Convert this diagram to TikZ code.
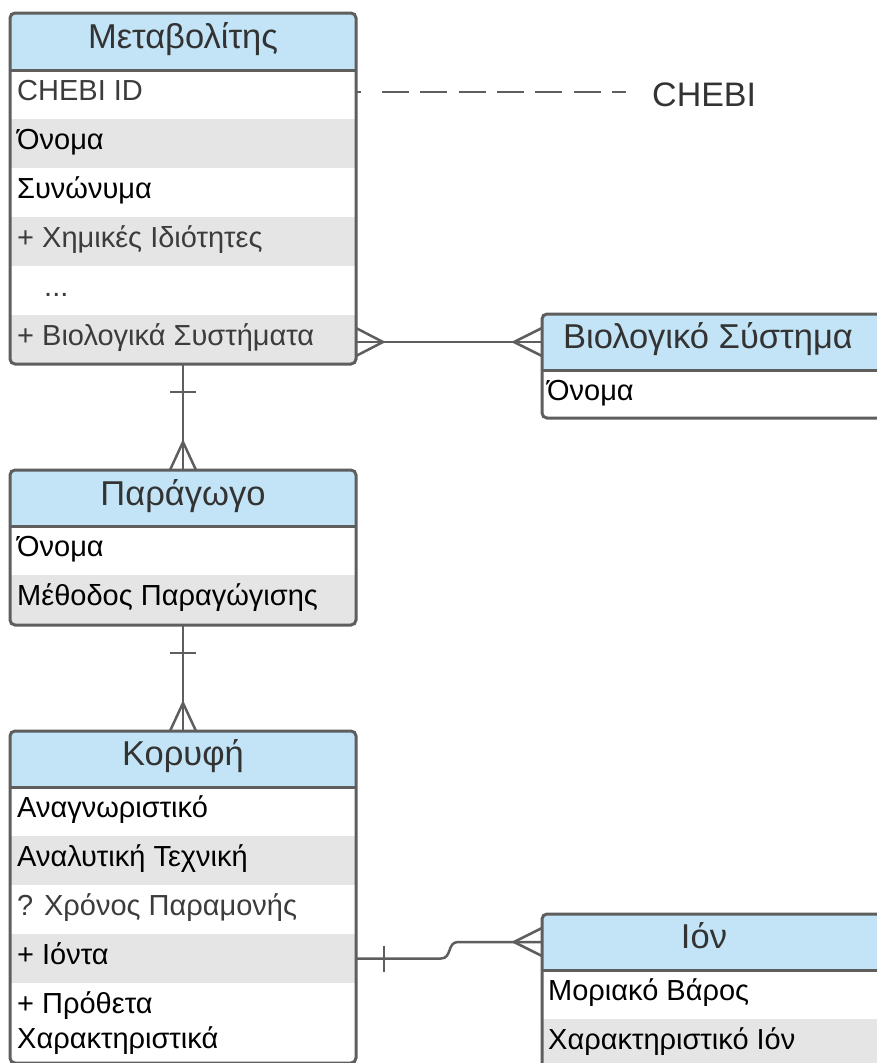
\documentclass[tikz,border=0pt]{standalone}
\usepackage{fontspec}
\setmainfont{Liberation Sans}
\usetikzlibrary{calc}

\definecolor{hdblue}{HTML}{C2E4F6}
\definecolor{rowgray}{HTML}{E5E5E5}
\definecolor{edge}{HTML}{5E5E5E}
\definecolor{hdtext}{HTML}{333333}
\definecolor{softtext}{HTML}{3C3C3C}

\tikzset{
  tbl/.style={draw=edge, line width=3pt, rounded corners=5pt, inner sep=0pt, outer sep=0pt, anchor=north west},
  hdtxt/.style={font=\fontsize{34.5}{40}\selectfont, text=hdtext, inner sep=0pt, anchor=base},
  fld/.style={font=\fontsize{29}{35}\selectfont, text=black, inner sep=0pt, anchor=base west},
  fldsoft/.style={fld, text=softtext},
  conn/.style={draw=edge, line width=2.5pt},
  hdsep/.style={draw=edge, line width=3pt},
  chebiline/.style={conn, dash pattern=on 5pt off 21pt on 27pt off 11.3pt on 27pt off 11.3pt on 27pt off 11.3pt on 27pt off 11.3pt on 27pt off 11.3pt on 27pt off 11.3pt on 14pt off 40pt},
}

\begin{document}
\begin{tikzpicture}[x=1pt, y=-1pt]
\clip (0,0) rectangle (877,1063);
\fill[white] (0,0) rectangle (877,1063);

% ---------- Metabolite table ----------
\begin{scope}
  \clip[rounded corners=5pt] (10,13) rectangle (356,364);
  \fill[hdblue] (10,13) rectangle (356,70);
  \fill[rowgray] (10,119) rectangle (356,168);
  \fill[rowgray] (10,217) rectangle (356,266);
  \fill[rowgray] (10,315) rectangle (356,364);
\end{scope}
\node[tbl, minimum width=346pt, minimum height=351pt] (met) at (10,13) {};
\draw[hdsep] (met.west |- 0,70) -- (met.east |- 0,70);
\node[hdtxt] (metT) at (183,48) {Μεταβολίτης};
\node[fldsoft] (metR1) at (17,100) {CHEBI ID};
\node[fld] (metR2) at (17,149) {Όνομα};
\node[fld] (metR3) at (17,198) {Συνώνυμα};
\node[fldsoft] (metR4) at (17,247) {+ Χημικές Ιδιότητες};
\node[fldsoft] (metR5) at (44,296) {...};
\node[fldsoft] (metR6) at (17,345) {+ Βιολογικά Συστήματα};

% ---------- Biological system table ----------
\begin{scope}
  \clip[rounded corners=5pt] (542,314) rectangle (890,418);
  \fill[hdblue] (542,314) rectangle (890,370);
\end{scope}
\node[tbl, minimum width=348pt, minimum height=104pt] (bio) at (542,314) {};
\draw[hdsep] (bio.west |- 0,370) -- (bio.east |- 0,370);
\node[hdtxt] (bioT) at (708,348) {Βιολογικό Σύστημα};
\node[fld] (bioR1) at (547,400) {Όνομα};

% ---------- Derivative table ----------
\begin{scope}
  \clip[rounded corners=5pt] (10,470) rectangle (356,625);
  \fill[hdblue] (10,470) rectangle (356,526);
  \fill[rowgray] (10,575) rectangle (356,625);
\end{scope}
\node[tbl, minimum width=346pt, minimum height=155pt] (par) at (10,470) {};
\draw[hdsep] (par.west |- 0,526) -- (par.east |- 0,526);
\node[hdtxt] (parT) at (183,505) {Παράγωγο};
\node[fld] (parR1) at (17,556) {Όνομα};
\node[fld] (parR2) at (17,605) {Μέθοδος Παραγώγισης};

% ---------- Peak table ----------
\begin{scope}
  \clip[rounded corners=5pt] (10,731) rectangle (356,1063);
  \fill[hdblue] (10,731) rectangle (356,787);
  \fill[rowgray] (10,836) rectangle (356,885);
  \fill[rowgray] (10,934) rectangle (356,983);
\end{scope}
\node[tbl, minimum width=346pt, minimum height=332pt] (kor) at (10,731) {};
\draw[hdsep] (kor.west |- 0,787) -- (kor.east |- 0,787);
\node[hdtxt] (korT) at (183,765) {Κορυφή};
\node[fld] (korR1) at (17,817) {Αναγνωριστικό};
\node[fld] (korR2) at (17,866) {Αναλυτική Τεχνική};
\node[fldsoft] (korR3) at (17,915) {? Χρόνος Παραμονής};
\node[fld] (korR4) at (17,964) {+ Ιόντα};
\node[fld] (korR5) at (17,1013) {+ Πρόθετα};
\node[fld] (korR5b) at (17,1048) {Χαρακτηριστικά};

% ---------- Ion table ----------
\begin{scope}
  \clip[rounded corners=5pt] (542,914) rectangle (890,1068);
  \fill[hdblue] (542,914) rectangle (890,970);
  \fill[rowgray] (542,1019) rectangle (890,1068);
\end{scope}
\node[tbl, minimum width=348pt, minimum height=154pt] (ion) at (542,914) {};
\draw[hdsep] (ion.west |- 0,970) -- (ion.east |- 0,970);
\node[hdtxt] (ionT) at (704,948) {Ιόν};
\node[fld] (ionR1) at (548,1000) {Μοριακό Βάρος};
\node[fld] (ionR2) at (548,1049) {Χαρακτηριστικό Ιόν};

% ---------- External reference ----------
\node[font=\fontsize{34}{40}\selectfont, text=hdtext, inner sep=0pt, anchor=base west] (chebi) at (652,106) {CHEBI};
\coordinate (chebiEnd) at ($(chebi.base west)+(-25,-14)$);
\draw[chebiline] (met.east |- chebiEnd) -- (chebiEnd);

% ---------- Metabolite -- biological system (many to many) ----------
\coordinate (bioIn) at ($(bio.north west)+(0,28)$);
\coordinate (metOut) at (met.east |- bioIn);
\draw[conn] (metOut) -- (bioIn);
\draw[conn] ($(metOut)+(0,-14)$) -- ($(metOut)+(27,0)$) -- ($(metOut)+(0,14)$);
\draw[conn] ($(bioIn)+(0,-14)$) -- ($(bioIn)+(-28,0)$) -- ($(bioIn)+(0,14)$);

% ---------- Metabolite -- derivative (one to many) ----------
\draw[conn] (met.south) -- (par.north);
\draw[conn] ($(met.south)+(-13,28)$) -- ++(26,0);
\draw[conn] ($(par.north)+(-13,0)$) -- ($(par.north)+(0,-28)$) -- ($(par.north)+(13,0)$);

% ---------- Derivative -- peak (one to many) ----------
\draw[conn] (par.south) -- (kor.north);
\draw[conn] ($(par.south)+(-13,28)$) -- ++(26,0);
\draw[conn] ($(kor.north)+(-13,0)$) -- ($(kor.north)+(0,-28)$) -- ($(kor.north)+(13,0)$);

% ---------- Peak -- ion (one to many) ----------
\coordinate (ionIn) at ($(ion.north west)+(0,28)$);
\coordinate (korOut) at (kor.east |- 0,958.5);
\draw[conn] (korOut) -- ++(85,0)
  .. controls +(11,0) and +(-11,0) .. ($(ionIn)+(-84,0)$) -- (ionIn);
\draw[conn] ($(korOut)+(28,-13)$) -- ++(0,26);
\draw[conn] ($(ionIn)+(0,-14)$) -- ($(ionIn)+(-28,0)$) -- ($(ionIn)+(0,14)$);
\end{tikzpicture}
\end{document}
